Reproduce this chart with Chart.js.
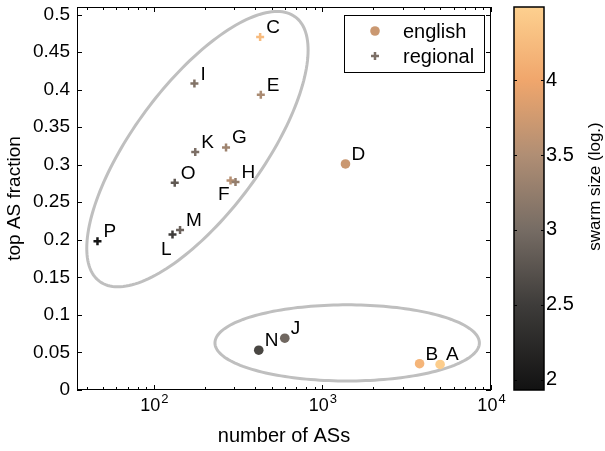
<!DOCTYPE html>
<html>
<head>
<meta charset="utf-8">
<script src="https://cdn.jsdelivr.net/npm/chart.js@4/dist/chart.umd.min.js"></script>
<style>
  html, body { margin: 0; padding: 0; background: #fff; }
  #chart { display: block; }
</style>
</head>
<body>
<canvas id="chart" width="605" height="451"></canvas>
<script>
// english swarms
const engNames = ['A', 'B', 'D', 'J', 'N'];
const engASs   = [4990, 3770, 1370, 598, 419];
const engFrac  = [0.034, 0.035, 0.301, 0.069, 0.053];
const engSize  = [4.45, 4.18, 3.7, 2.95, 2.6];

// regional swarms
const regNames = ['C', 'E', 'F', 'G', 'H', 'I', 'K', 'L', 'M', 'O', 'P'];
const regASs   = [427, 431, 285, 268, 305, 174, 176, 129, 143, 133, 46.3];
const regFrac  = [0.47, 0.393, 0.279, 0.323, 0.277, 0.408, 0.317, 0.207, 0.213, 0.276, 0.198];
const regSize  = [4.25, 3.45, 3.55, 3.35, 3.25, 3.1, 3.05, 2.5, 2.9, 2.8, 1.98];

// axes
const xMajor  = [100, 1000, 10000];
const xMinor  = [40, 50, 60, 70, 80, 90, 200, 300, 400, 500, 600, 700, 800, 900,
                 2000, 3000, 4000, 5000, 6000, 7000, 8000, 9000];
const yTicks  = [0, 0.05, 0.1, 0.15, 0.2, 0.25, 0.3, 0.35, 0.4, 0.45, 0.5];
const cbTicks = [2, 2.5, 3, 3.5, 4];

// colormap (swarm size, log.)
const cmapVals = [1.93, 2.5, 3.0, 3.5, 4.0, 4.49];
const cmapRGB  = [[18, 18, 18], [62, 60, 58], [118, 108, 100], [176, 142, 116], [240, 166, 108], [253, 208, 143]];

// clusters, in (log10 x, y) space: centre and two conjugate semi-axes
const clusters = [
  { c: [2.2585, 0.3207], a: [0.5805, 0.1761], b: [-0.3066, 0.0509] },
  { c: [3.1468, 0.0627], a: [0.7843, 0], b: [0, 0.0507] },
];

const labelBelow = ['L', 'F'];
const FONT = '"Liberation Sans", Arial, sans-serif';

function cmap(v) {
  if (v <= cmapVals[0]) return `rgb(${cmapRGB[0].join(',')})`;
  for (let i = 1; i < cmapVals.length; i++) {
    if (v <= cmapVals[i]) {
      const t = (v - cmapVals[i - 1]) / (cmapVals[i] - cmapVals[i - 1]);
      const c = cmapRGB[i - 1].map((p, k) => Math.round(p + (cmapRGB[i][k] - p) * t));
      return `rgb(${c.join(',')})`;
    }
  }
  return `rgb(${cmapRGB[cmapRGB.length - 1].join(',')})`;
}

function drawPlus(ctx, x, y, r, color, lw) {
  ctx.save();
  ctx.strokeStyle = color;
  ctx.lineWidth = lw;
  ctx.beginPath();
  ctx.moveTo(x - r, y); ctx.lineTo(x + r, y);
  ctx.moveTo(x, y - r); ctx.lineTo(x, y + r);
  ctx.stroke();
  ctx.restore();
}

// keep tick labels from pushing the plot area around
function noPad(s) {
  s.paddingTop = 0; s.paddingBottom = 0; s.paddingLeft = 0; s.paddingRight = 0;
}

const decor = {
  id: 'decor',
  beforeDatasetsDraw(chart) {
    const { ctx, scales: { x, y } } = chart;
    ctx.save();
    ctx.strokeStyle = '#bfbfbf';
    ctx.lineWidth = 3;
    clusters.forEach(e => {
      ctx.beginPath();
      for (let i = 0; i <= 180; i++) {
        const t = i / 180 * Math.PI * 2;
        const lx = e.c[0] + Math.cos(t) * e.a[0] + Math.sin(t) * e.b[0];
        const ly = e.c[1] + Math.cos(t) * e.a[1] + Math.sin(t) * e.b[1];
        const px = x.getPixelForValue(Math.pow(10, lx));
        const py = y.getPixelForValue(ly);
        if (i === 0) ctx.moveTo(px, py); else ctx.lineTo(px, py);
      }
      ctx.closePath();
      ctx.stroke();
    });
    ctx.restore();
  },
  afterDatasetsDraw(chart) {
    const { ctx, chartArea: a, scales: { x, y, cb } } = chart;
    ctx.save();

    // frame + inward ticks
    ctx.strokeStyle = '#000';
    ctx.lineWidth = 1;
    ctx.strokeRect(Math.round(a.left) + 0.5, Math.round(a.top) + 0.5,
                   Math.round(a.right - a.left) - 1, Math.round(a.bottom - a.top) - 1);
    ctx.beginPath();
    yTicks.forEach(v => {
      const py = Math.round(y.getPixelForValue(v)) + 0.5;
      ctx.moveTo(a.left, py); ctx.lineTo(a.left + 5, py);
      ctx.moveTo(a.right, py); ctx.lineTo(a.right - 5, py);
    });
    xMajor.forEach(v => {
      const px = Math.round(x.getPixelForValue(v)) + 0.5;
      ctx.moveTo(px, a.bottom); ctx.lineTo(px, a.bottom - 5);
      ctx.moveTo(px, a.top); ctx.lineTo(px, a.top + 5);
    });
    xMinor.forEach(v => {
      const px = Math.round(x.getPixelForValue(v)) + 0.5;
      ctx.moveTo(px, a.bottom); ctx.lineTo(px, a.bottom - 3);
      ctx.moveTo(px, a.top); ctx.lineTo(px, a.top + 3);
    });
    ctx.stroke();

    // x tick labels 10^n
    ctx.fillStyle = '#000';
    ctx.textBaseline = 'alphabetic';
    ctx.textAlign = 'left';
    xMajor.forEach(v => {
      const exp = String(Math.round(Math.log10(v)));
      ctx.font = `18px ${FONT}`;
      const wb = ctx.measureText('10').width;
      ctx.font = `13px ${FONT}`;
      const we = ctx.measureText(exp).width;
      const px = x.getPixelForValue(v);
      const x0 = px - (wb + we) / 2;
      ctx.font = `18px ${FONT}`;
      ctx.fillText('10', x0, a.bottom + 21);
      ctx.font = `13px ${FONT}`;
      ctx.fillText(exp, x0 + wb + 1, a.bottom + 13);
    });

    // point labels
    ctx.font = `19px ${FONT}`;
    const putLabels = (names, xs, ys) => names.forEach((n, i) => {
      const px = x.getPixelForValue(xs[i]);
      const py = y.getPixelForValue(ys[i]);
      if (labelBelow.includes(n)) {
        ctx.textAlign = 'right';
        ctx.fillText(n, px - 1, py + 20);
      } else {
        ctx.textAlign = 'left';
        ctx.fillText(n, px + 6, py - 4);
      }
    });
    putLabels(engNames, engASs, engFrac);
    putLabels(regNames, regASs, regFrac);

    // legend
    const lx = Math.round(a.right) - 147, ly = Math.round(a.top) + 8;
    ctx.fillStyle = '#fff';
    ctx.fillRect(lx, ly, 140, 57);
    ctx.strokeStyle = '#000';
    ctx.lineWidth = 1;
    ctx.strokeRect(lx + 0.5, ly + 0.5, 140, 57);
    ctx.fillStyle = cmap(3.7);
    ctx.beginPath();
    ctx.arc(lx + 31, ly + 16, 4.8, 0, Math.PI * 2);
    ctx.fill();
    drawPlus(ctx, lx + 31, ly + 41, 4, cmap(3.05), 2.5);
    ctx.fillStyle = '#000';
    ctx.textAlign = 'left';
    ctx.font = `20px ${FONT}`;
    ctx.fillText('english', lx + 59, ly + 23);
    ctx.fillText('regional', lx + 59, ly + 48);

    // colorbar
    const cx0 = Math.round(a.right) + 23, cw = 30;
    const top = cb.getPixelForValue(cb.max), bot = cb.getPixelForValue(cb.min);
    const g = ctx.createLinearGradient(0, bot, 0, top);
    cmapVals.forEach((v, i) => g.addColorStop((v - cb.min) / (cb.max - cb.min), cmap(v)));
    ctx.fillStyle = g;
    ctx.fillRect(cx0, top, cw, bot - top);
    ctx.strokeStyle = '#000';
    ctx.lineWidth = 1.5;
    ctx.strokeRect(cx0, top, cw, bot - top);
    ctx.lineWidth = 1;
    ctx.beginPath();
    cbTicks.forEach(v => {
      const py = Math.round(cb.getPixelForValue(v)) + 0.5;
      ctx.moveTo(cx0, py); ctx.lineTo(cx0 + 3, py);
      ctx.moveTo(cx0 + cw, py); ctx.lineTo(cx0 + cw - 3, py);
    });
    ctx.stroke();

    ctx.translate(595, (top + bot) / 2 - 12);
    ctx.rotate(-Math.PI / 2);
    ctx.fillStyle = '#000';
    ctx.textAlign = 'center';
    ctx.textBaseline = 'middle';
    ctx.font = `17px ${FONT}`;
    ctx.fillText('swarm size (log.)', 0, 0);
    ctx.restore();
  },
};

new Chart(document.getElementById('chart'), {
  type: 'scatter',
  data: {
    datasets: [
      {
        label: 'english',
        data: engASs.map((v, i) => ({ x: v, y: engFrac[i] })),
        pointStyle: 'circle',
        pointRadius: 4.8,
        pointBorderWidth: 0,
        pointBackgroundColor: engSize.map(cmap),
        pointBorderColor: engSize.map(cmap),
      },
      {
        label: 'regional',
        data: regASs.map((v, i) => ({ x: v, y: regFrac[i] })),
        pointStyle: 'cross',
        pointRadius: 4,
        pointBorderWidth: 2.5,
        pointBorderColor: regSize.map(cmap),
        pointBackgroundColor: regSize.map(cmap),
      },
    ],
  },
  options: {
    responsive: false,
    animation: false,
    devicePixelRatio: 1,
    layout: { padding: { top: 7, left: 0, right: 0, bottom: 0 } },
    plugins: { legend: { display: false }, tooltip: { enabled: false } },
    scales: {
      x: {
        type: 'logarithmic',
        min: 35, max: 10000,
        afterBuildTicks: s => { s.ticks = xMajor.map(v => ({ value: v })); },
        afterFit: s => { s.height = 61; noPad(s); },
        ticks: { display: false },
        grid: { display: false, drawTicks: false },
        border: { display: false },
        title: { display: true, text: 'number of ASs', color: '#000', font: { family: FONT, size: 20 }, padding: { top: 0, bottom: 3 } },
      },
      y: {
        min: 0, max: 0.51,
        afterBuildTicks: s => { s.ticks = yTicks.map(v => ({ value: v })); },
        afterFit: s => { s.width = 77; noPad(s); },
        ticks: { color: '#000', font: { family: FONT, size: 19 }, padding: 7, callback: v => String(+v.toFixed(2)) },
        grid: { display: false, drawTicks: false },
        border: { display: false },
        title: { display: true, text: 'top AS fraction', color: '#000', font: { family: FONT, size: 19 }, padding: { top: 3, bottom: 0 } },
      },
      cb: {
        type: 'linear',
        position: 'right',
        min: 1.93, max: 4.49,
        afterBuildTicks: s => { s.ticks = cbTicks.map(v => ({ value: v })); },
        afterFit: s => { s.width = 114; noPad(s); },
        ticks: { color: '#000', font: { family: FONT, size: 20 }, padding: 55, callback: v => String(v) },
        grid: { display: false, drawTicks: false },
        border: { display: false },
      },
    },
  },
  plugins: [decor],
});
</script>
</body>
</html>
